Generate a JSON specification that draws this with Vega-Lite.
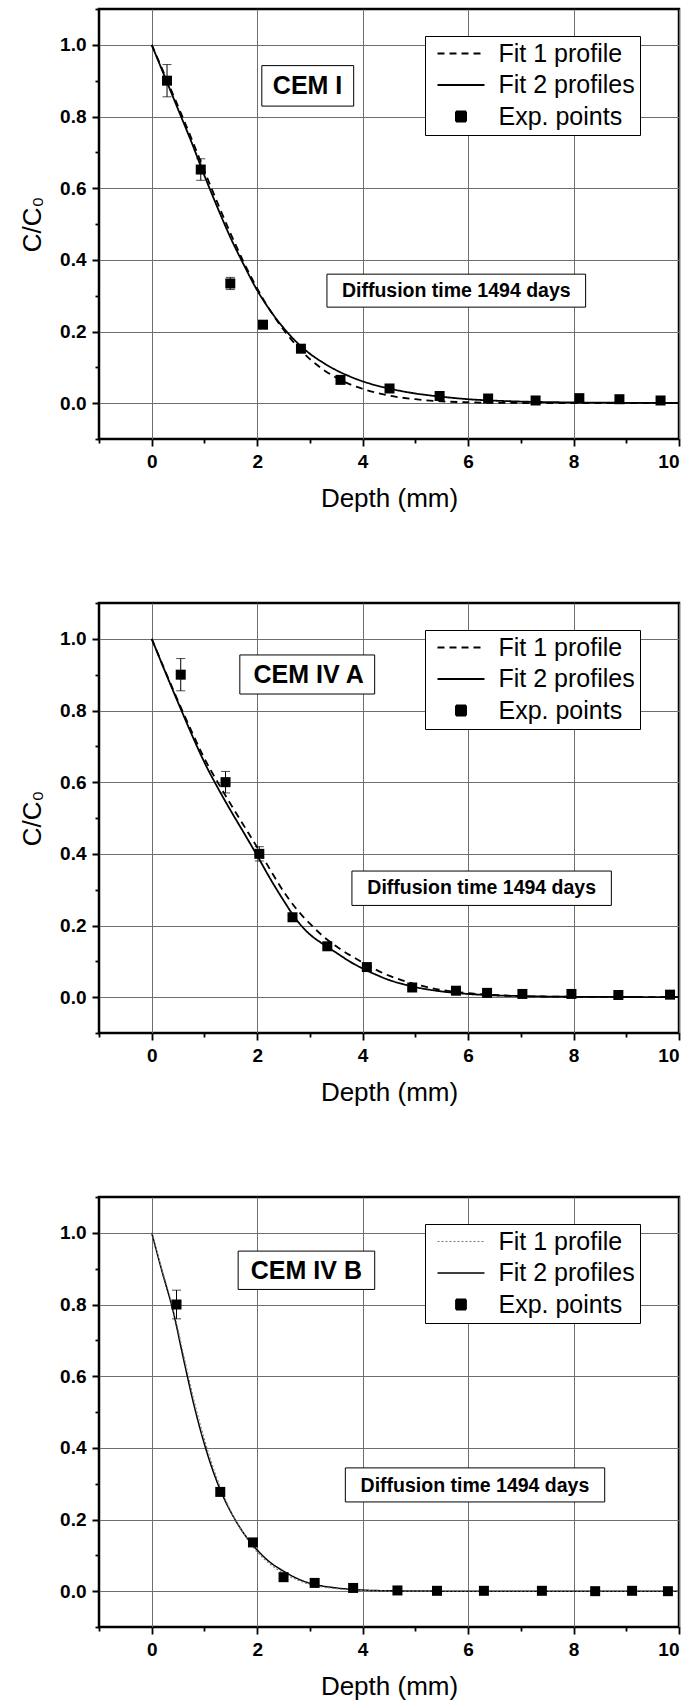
{
  "$schema": "https://vega.github.io/schema/vega-lite/v6.json",
  "background": "white",
  "padding": {"left": 18, "top": 6, "right": 5, "bottom": 0},
  "bounds": "flush",
  "spacing": 164,
  "resolve": {
    "scale": {"shape": "independent", "strokeDash": "independent", "stroke": "independent", "strokeWidth": "independent"},
    "legend": {"shape": "independent", "strokeDash": "independent", "stroke": "independent", "strokeWidth": "independent"}
  },
  "datasets": {
    "p1fit": [
      {"series": "Fit 2 profiles", "x": 0, "y": 1}, {"series": "Fit 2 profiles", "x": 0.25, "y": 0.91}, {"series": "Fit 2 profiles", "x": 0.5, "y": 0.82}, {"series": "Fit 2 profiles", "x": 0.75, "y": 0.73}, {"series": "Fit 2 profiles", "x": 1, "y": 0.635}, {"series": "Fit 2 profiles", "x": 1.25, "y": 0.545}, {"series": "Fit 2 profiles", "x": 1.5, "y": 0.46}, {"series": "Fit 2 profiles", "x": 1.75, "y": 0.385}, {"series": "Fit 2 profiles", "x": 2, "y": 0.315}, {"series": "Fit 2 profiles", "x": 2.25, "y": 0.258}, {"series": "Fit 2 profiles", "x": 2.5, "y": 0.21}, {"series": "Fit 2 profiles", "x": 2.75, "y": 0.17}, {"series": "Fit 2 profiles", "x": 3, "y": 0.138}, {"series": "Fit 2 profiles", "x": 3.25, "y": 0.113}, {"series": "Fit 2 profiles", "x": 3.5, "y": 0.092}, {"series": "Fit 2 profiles", "x": 3.75, "y": 0.075}, {"series": "Fit 2 profiles", "x": 4, "y": 0.061}, {"series": "Fit 2 profiles", "x": 4.5, "y": 0.041}, {"series": "Fit 2 profiles", "x": 5, "y": 0.027}, {"series": "Fit 2 profiles", "x": 5.5, "y": 0.018}, {"series": "Fit 2 profiles", "x": 6, "y": 0.011}, {"series": "Fit 2 profiles", "x": 6.5, "y": 0.007}, {"series": "Fit 2 profiles", "x": 7, "y": 0.0045}, {"series": "Fit 2 profiles", "x": 8, "y": 0.002}, {"series": "Fit 2 profiles", "x": 9, "y": 0.001}, {"series": "Fit 2 profiles", "x": 10, "y": 0.0005},
      {"series": "Fit 1 profile", "x": 0, "y": 1}, {"series": "Fit 1 profile", "x": 0.25, "y": 0.915}, {"series": "Fit 1 profile", "x": 0.5, "y": 0.828}, {"series": "Fit 1 profile", "x": 0.75, "y": 0.74}, {"series": "Fit 1 profile", "x": 1, "y": 0.648}, {"series": "Fit 1 profile", "x": 1.25, "y": 0.558}, {"series": "Fit 1 profile", "x": 1.5, "y": 0.472}, {"series": "Fit 1 profile", "x": 1.75, "y": 0.392}, {"series": "Fit 1 profile", "x": 2, "y": 0.32}, {"series": "Fit 1 profile", "x": 2.25, "y": 0.258}, {"series": "Fit 1 profile", "x": 2.5, "y": 0.205}, {"series": "Fit 1 profile", "x": 2.75, "y": 0.16}, {"series": "Fit 1 profile", "x": 3, "y": 0.123}, {"series": "Fit 1 profile", "x": 3.25, "y": 0.094}, {"series": "Fit 1 profile", "x": 3.5, "y": 0.071}, {"series": "Fit 1 profile", "x": 3.75, "y": 0.053}, {"series": "Fit 1 profile", "x": 4, "y": 0.04}, {"series": "Fit 1 profile", "x": 4.5, "y": 0.021}, {"series": "Fit 1 profile", "x": 5, "y": 0.011}, {"series": "Fit 1 profile", "x": 5.5, "y": 0.005}, {"series": "Fit 1 profile", "x": 6, "y": 0.0025}, {"series": "Fit 1 profile", "x": 7, "y": 0.0005}, {"series": "Fit 1 profile", "x": 8, "y": 0.0001}, {"series": "Fit 1 profile", "x": 10, "y": 0}
    ],
    "p1pts": [
      {"series": "Exp. points", "x": 0.29, "y": 0.9, "err": 0.045}, {"series": "Exp. points", "x": 0.93, "y": 0.652, "err": 0.03}, {"series": "Exp. points", "x": 1.49, "y": 0.334, "err": 0.017}, {"series": "Exp. points", "x": 2.11, "y": 0.219, "err": 0.008}, {"series": "Exp. points", "x": 2.83, "y": 0.152, "err": 0.006}, {"series": "Exp. points", "x": 3.58, "y": 0.065, "err": 0.005}, {"series": "Exp. points", "x": 4.51, "y": 0.041, "err": 0.005}, {"series": "Exp. points", "x": 5.46, "y": 0.02, "err": 0.004}, {"series": "Exp. points", "x": 6.38, "y": 0.013, "err": 0.003}, {"series": "Exp. points", "x": 7.28, "y": 0.0075, "err": 0.003}, {"series": "Exp. points", "x": 8.11, "y": 0.014, "err": 0.003}, {"series": "Exp. points", "x": 8.87, "y": 0.011, "err": 0.003}, {"series": "Exp. points", "x": 9.65, "y": 0.0075, "err": 0.003}
    ],
    "p2fit": [
      {"series": "Fit 2 profiles", "x": 0, "y": 1}, {"series": "Fit 2 profiles", "x": 0.25, "y": 0.91}, {"series": "Fit 2 profiles", "x": 0.5, "y": 0.822}, {"series": "Fit 2 profiles", "x": 0.75, "y": 0.736}, {"series": "Fit 2 profiles", "x": 1, "y": 0.655}, {"series": "Fit 2 profiles", "x": 1.25, "y": 0.585}, {"series": "Fit 2 profiles", "x": 1.5, "y": 0.52}, {"series": "Fit 2 profiles", "x": 1.75, "y": 0.458}, {"series": "Fit 2 profiles", "x": 2, "y": 0.395}, {"series": "Fit 2 profiles", "x": 2.25, "y": 0.33}, {"series": "Fit 2 profiles", "x": 2.5, "y": 0.27}, {"series": "Fit 2 profiles", "x": 2.75, "y": 0.215}, {"series": "Fit 2 profiles", "x": 3, "y": 0.175}, {"series": "Fit 2 profiles", "x": 3.25, "y": 0.148}, {"series": "Fit 2 profiles", "x": 3.5, "y": 0.124}, {"series": "Fit 2 profiles", "x": 3.75, "y": 0.1}, {"series": "Fit 2 profiles", "x": 4, "y": 0.08}, {"series": "Fit 2 profiles", "x": 4.25, "y": 0.063}, {"series": "Fit 2 profiles", "x": 4.5, "y": 0.048}, {"series": "Fit 2 profiles", "x": 4.75, "y": 0.037}, {"series": "Fit 2 profiles", "x": 5, "y": 0.028}, {"series": "Fit 2 profiles", "x": 5.5, "y": 0.016}, {"series": "Fit 2 profiles", "x": 6, "y": 0.009}, {"series": "Fit 2 profiles", "x": 6.5, "y": 0.005}, {"series": "Fit 2 profiles", "x": 7, "y": 0.003}, {"series": "Fit 2 profiles", "x": 8, "y": 0.001}, {"series": "Fit 2 profiles", "x": 9, "y": 0.0005}, {"series": "Fit 2 profiles", "x": 10, "y": 0.0002},
      {"series": "Fit 1 profile", "x": 0, "y": 1}, {"series": "Fit 1 profile", "x": 0.25, "y": 0.912}, {"series": "Fit 1 profile", "x": 0.5, "y": 0.826}, {"series": "Fit 1 profile", "x": 0.75, "y": 0.744}, {"series": "Fit 1 profile", "x": 1, "y": 0.666}, {"series": "Fit 1 profile", "x": 1.25, "y": 0.6}, {"series": "Fit 1 profile", "x": 1.5, "y": 0.538}, {"series": "Fit 1 profile", "x": 1.75, "y": 0.478}, {"series": "Fit 1 profile", "x": 2, "y": 0.418}, {"series": "Fit 1 profile", "x": 2.25, "y": 0.355}, {"series": "Fit 1 profile", "x": 2.5, "y": 0.295}, {"series": "Fit 1 profile", "x": 2.75, "y": 0.245}, {"series": "Fit 1 profile", "x": 3, "y": 0.205}, {"series": "Fit 1 profile", "x": 3.25, "y": 0.17}, {"series": "Fit 1 profile", "x": 3.5, "y": 0.142}, {"series": "Fit 1 profile", "x": 3.75, "y": 0.118}, {"series": "Fit 1 profile", "x": 4, "y": 0.097}, {"series": "Fit 1 profile", "x": 4.25, "y": 0.077}, {"series": "Fit 1 profile", "x": 4.5, "y": 0.06}, {"series": "Fit 1 profile", "x": 4.75, "y": 0.047}, {"series": "Fit 1 profile", "x": 5, "y": 0.036}, {"series": "Fit 1 profile", "x": 5.5, "y": 0.02}, {"series": "Fit 1 profile", "x": 6, "y": 0.011}, {"series": "Fit 1 profile", "x": 6.5, "y": 0.006}, {"series": "Fit 1 profile", "x": 7, "y": 0.003}, {"series": "Fit 1 profile", "x": 8, "y": 0.001}, {"series": "Fit 1 profile", "x": 10, "y": 0.0002}
    ],
    "p2pts": [
      {"series": "Exp. points", "x": 0.55, "y": 0.9, "err": 0.045}, {"series": "Exp. points", "x": 1.4, "y": 0.6, "err": 0.03}, {"series": "Exp. points", "x": 2.04, "y": 0.4, "err": 0.02}, {"series": "Exp. points", "x": 2.67, "y": 0.223, "err": 0.008}, {"series": "Exp. points", "x": 3.33, "y": 0.142, "err": 0.006}, {"series": "Exp. points", "x": 4.08, "y": 0.084, "err": 0.005}, {"series": "Exp. points", "x": 4.94, "y": 0.027, "err": 0.005}, {"series": "Exp. points", "x": 5.77, "y": 0.018, "err": 0.004}, {"series": "Exp. points", "x": 6.36, "y": 0.012, "err": 0.003}, {"series": "Exp. points", "x": 7.03, "y": 0.009, "err": 0.003}, {"series": "Exp. points", "x": 7.96, "y": 0.009, "err": 0.003}, {"series": "Exp. points", "x": 8.85, "y": 0.006, "err": 0.003}, {"series": "Exp. points", "x": 9.83, "y": 0.007, "err": 0.003}
    ],
    "p3fit": [
      {"series": "Fit 2 profiles", "x": 0, "y": 1}, {"series": "Fit 2 profiles", "x": 0.2, "y": 0.89}, {"series": "Fit 2 profiles", "x": 0.4, "y": 0.785}, {"series": "Fit 2 profiles", "x": 0.6, "y": 0.65}, {"series": "Fit 2 profiles", "x": 0.8, "y": 0.52}, {"series": "Fit 2 profiles", "x": 1, "y": 0.41}, {"series": "Fit 2 profiles", "x": 1.2, "y": 0.32}, {"series": "Fit 2 profiles", "x": 1.4, "y": 0.25}, {"series": "Fit 2 profiles", "x": 1.6, "y": 0.195}, {"series": "Fit 2 profiles", "x": 1.8, "y": 0.15}, {"series": "Fit 2 profiles", "x": 2, "y": 0.115}, {"series": "Fit 2 profiles", "x": 2.25, "y": 0.08}, {"series": "Fit 2 profiles", "x": 2.5, "y": 0.056}, {"series": "Fit 2 profiles", "x": 2.75, "y": 0.036}, {"series": "Fit 2 profiles", "x": 3, "y": 0.022}, {"series": "Fit 2 profiles", "x": 3.25, "y": 0.014}, {"series": "Fit 2 profiles", "x": 3.5, "y": 0.009}, {"series": "Fit 2 profiles", "x": 4, "y": 0.003}, {"series": "Fit 2 profiles", "x": 4.5, "y": 0.001}, {"series": "Fit 2 profiles", "x": 5, "y": 0.0003}, {"series": "Fit 2 profiles", "x": 6, "y": 0}, {"series": "Fit 2 profiles", "x": 10, "y": 0},
      {"series": "Fit 1 profile", "x": 0, "y": 1}, {"series": "Fit 1 profile", "x": 0.2, "y": 0.895}, {"series": "Fit 1 profile", "x": 0.4, "y": 0.792}, {"series": "Fit 1 profile", "x": 0.6, "y": 0.662}, {"series": "Fit 1 profile", "x": 0.8, "y": 0.533}, {"series": "Fit 1 profile", "x": 1, "y": 0.423}, {"series": "Fit 1 profile", "x": 1.2, "y": 0.33}, {"series": "Fit 1 profile", "x": 1.4, "y": 0.255}, {"series": "Fit 1 profile", "x": 1.6, "y": 0.195}, {"series": "Fit 1 profile", "x": 1.8, "y": 0.148}, {"series": "Fit 1 profile", "x": 2, "y": 0.11}, {"series": "Fit 1 profile", "x": 2.25, "y": 0.075}, {"series": "Fit 1 profile", "x": 2.5, "y": 0.05}, {"series": "Fit 1 profile", "x": 2.75, "y": 0.032}, {"series": "Fit 1 profile", "x": 3, "y": 0.019}, {"series": "Fit 1 profile", "x": 3.5, "y": 0.007}, {"series": "Fit 1 profile", "x": 4, "y": 0.002}, {"series": "Fit 1 profile", "x": 4.5, "y": 0.0005}, {"series": "Fit 1 profile", "x": 5, "y": 0}, {"series": "Fit 1 profile", "x": 10, "y": 0}
    ],
    "p3pts": [
      {"series": "Exp. points", "x": 0.47, "y": 0.8, "err": 0.04}, {"series": "Exp. points", "x": 1.3, "y": 0.277, "err": 0.01}, {"series": "Exp. points", "x": 1.92, "y": 0.136, "err": 0.008}, {"series": "Exp. points", "x": 2.5, "y": 0.039, "err": 0.005}, {"series": "Exp. points", "x": 3.09, "y": 0.023, "err": 0.004}, {"series": "Exp. points", "x": 3.82, "y": 0.009, "err": 0.003}, {"series": "Exp. points", "x": 4.66, "y": 0.002, "err": 0.002}, {"series": "Exp. points", "x": 5.41, "y": 0.001, "err": 0.002}, {"series": "Exp. points", "x": 6.3, "y": 0.001, "err": 0.002}, {"series": "Exp. points", "x": 7.4, "y": 0.001, "err": 0.002}, {"series": "Exp. points", "x": 8.41, "y": 0, "err": 0.002}, {"series": "Exp. points", "x": 9.11, "y": 0.001, "err": 0.002}, {"series": "Exp. points", "x": 9.79, "y": 0, "err": 0.002}
    ]
  },
  "vconcat": [
    {
      "width": 580, "height": 430,
      "layer": [
        {"data": {"values": [{}]}, "mark": {"type": "rect", "fill": "white", "stroke": "black", "strokeWidth": 1},
         "encoding": {"x": {"datum": 2.088, "type": "quantitative", "scale": {"domain": [-1, 10], "nice": false, "zero": false}, "title": "Depth (mm)", "axis": {"orient": "bottom", "values": [-1, 0, 1, 2, 3, 4, 5, 6, 7, 8, 9, 10], "labelExpr": "indexof([0, 2, 4, 6, 8, 10], datum.value) >= 0 ? format(datum.value, 'd') : ''", "tickDash": {"condition": {"test": "datum.value >= 0 && datum.value % 2 == 0", "value": [1, 0]}, "value": [4, 20]}, "gridOpacity": {"condition": {"test": "datum.value >= 0 && datum.value % 2 == 0", "value": 1}, "value": 0}}}, "x2": {"datum": 3.83},
                      "y": {"datum": 0.829, "type": "quantitative", "scale": {"domain": [-0.1, 1.1], "nice": false, "zero": false}, "title": "C/C₀", "axis": {"orient": "left", "values": [-0.1, 0, 0.1, 0.2, 0.3, 0.4, 0.5, 0.6, 0.7, 0.8, 0.9, 1, 1.1], "labelExpr": "indexof([0, 0.2, 0.4, 0.6, 0.8, 1], datum.value) >= 0 ? format(datum.value, '.1f') : ''", "tickDash": {"condition": {"test": "(datum.value * 10 + 20.5) % 2 < 1", "value": [1, 0]}, "value": [4, 20]}, "gridOpacity": {"condition": {"test": "(datum.value * 10 + 20.5) % 2 < 1", "value": 1}, "value": 0}}}, "y2": {"datum": 0.942}}},
        {"data": {"values": [{}]}, "mark": {"type": "text", "text": "CEM I", "font": "Liberation Sans", "fontWeight": "bold", "fontSize": 25, "color": "black", "align": "center", "baseline": "middle"},
         "encoding": {"x": {"datum": 2.956, "type": "quantitative", "scale": {"domain": [-1, 10], "nice": false, "zero": false}, "title": "Depth (mm)", "axis": {"orient": "bottom", "values": [-1, 0, 1, 2, 3, 4, 5, 6, 7, 8, 9, 10], "labelExpr": "indexof([0, 2, 4, 6, 8, 10], datum.value) >= 0 ? format(datum.value, 'd') : ''", "tickDash": {"condition": {"test": "datum.value >= 0 && datum.value % 2 == 0", "value": [1, 0]}, "value": [4, 20]}, "gridOpacity": {"condition": {"test": "datum.value >= 0 && datum.value % 2 == 0", "value": 1}, "value": 0}}},
                      "y": {"datum": 0.885, "type": "quantitative", "scale": {"domain": [-0.1, 1.1], "nice": false, "zero": false}, "title": "C/C₀", "axis": {"orient": "left", "values": [-0.1, 0, 0.1, 0.2, 0.3, 0.4, 0.5, 0.6, 0.7, 0.8, 0.9, 1, 1.1], "labelExpr": "indexof([0, 0.2, 0.4, 0.6, 0.8, 1], datum.value) >= 0 ? format(datum.value, '.1f') : ''", "tickDash": {"condition": {"test": "(datum.value * 10 + 20.5) % 2 < 1", "value": [1, 0]}, "value": [4, 20]}, "gridOpacity": {"condition": {"test": "(datum.value * 10 + 20.5) % 2 < 1", "value": 1}, "value": 0}}}}},
        {"data": {"values": [{}]}, "mark": {"type": "rect", "fill": "white", "stroke": "black", "strokeWidth": 1},
         "encoding": {"x": {"datum": 3.323, "type": "quantitative", "scale": {"domain": [-1, 10], "nice": false, "zero": false}, "title": "Depth (mm)", "axis": {"orient": "bottom", "values": [-1, 0, 1, 2, 3, 4, 5, 6, 7, 8, 9, 10], "labelExpr": "indexof([0, 2, 4, 6, 8, 10], datum.value) >= 0 ? format(datum.value, 'd') : ''", "tickDash": {"condition": {"test": "datum.value >= 0 && datum.value % 2 == 0", "value": [1, 0]}, "value": [4, 20]}, "gridOpacity": {"condition": {"test": "datum.value >= 0 && datum.value % 2 == 0", "value": 1}, "value": 0}}}, "x2": {"datum": 8.229},
                      "y": {"datum": 0.268, "type": "quantitative", "scale": {"domain": [-0.1, 1.1], "nice": false, "zero": false}, "title": "C/C₀", "axis": {"orient": "left", "values": [-0.1, 0, 0.1, 0.2, 0.3, 0.4, 0.5, 0.6, 0.7, 0.8, 0.9, 1, 1.1], "labelExpr": "indexof([0, 0.2, 0.4, 0.6, 0.8, 1], datum.value) >= 0 ? format(datum.value, '.1f') : ''", "tickDash": {"condition": {"test": "(datum.value * 10 + 20.5) % 2 < 1", "value": [1, 0]}, "value": [4, 20]}, "gridOpacity": {"condition": {"test": "(datum.value * 10 + 20.5) % 2 < 1", "value": 1}, "value": 0}}}, "y2": {"datum": 0.36}}},
        {"data": {"values": [{}]}, "mark": {"type": "text", "text": "Diffusion time 1494 days", "font": "Liberation Sans", "fontWeight": "bold", "fontSize": 19.5, "color": "black", "align": "center", "baseline": "middle"},
         "encoding": {"x": {"datum": 5.776, "type": "quantitative", "scale": {"domain": [-1, 10], "nice": false, "zero": false}, "title": "Depth (mm)", "axis": {"orient": "bottom", "values": [-1, 0, 1, 2, 3, 4, 5, 6, 7, 8, 9, 10], "labelExpr": "indexof([0, 2, 4, 6, 8, 10], datum.value) >= 0 ? format(datum.value, 'd') : ''", "tickDash": {"condition": {"test": "datum.value >= 0 && datum.value % 2 == 0", "value": [1, 0]}, "value": [4, 20]}, "gridOpacity": {"condition": {"test": "datum.value >= 0 && datum.value % 2 == 0", "value": 1}, "value": 0}}},
                      "y": {"datum": 0.312, "type": "quantitative", "scale": {"domain": [-0.1, 1.1], "nice": false, "zero": false}, "title": "C/C₀", "axis": {"orient": "left", "values": [-0.1, 0, 0.1, 0.2, 0.3, 0.4, 0.5, 0.6, 0.7, 0.8, 0.9, 1, 1.1], "labelExpr": "indexof([0, 0.2, 0.4, 0.6, 0.8, 1], datum.value) >= 0 ? format(datum.value, '.1f') : ''", "tickDash": {"condition": {"test": "(datum.value * 10 + 20.5) % 2 < 1", "value": [1, 0]}, "value": [4, 20]}, "gridOpacity": {"condition": {"test": "(datum.value * 10 + 20.5) % 2 < 1", "value": 1}, "value": 0}}}}},
        {"data": {"name": "p1fit"}, "mark": {"type": "line", "color": "black", "strokeWidth": 1.8, "interpolate": "monotone"},
         "encoding": {
           "x": {"field": "x", "type": "quantitative", "scale": {"domain": [-1, 10], "nice": false, "zero": false}, "title": "Depth (mm)", "axis": {"orient": "bottom", "values": [-1, 0, 1, 2, 3, 4, 5, 6, 7, 8, 9, 10], "labelExpr": "indexof([0, 2, 4, 6, 8, 10], datum.value) >= 0 ? format(datum.value, 'd') : ''", "tickDash": {"condition": {"test": "datum.value >= 0 && datum.value % 2 == 0", "value": [1, 0]}, "value": [4, 20]}, "gridOpacity": {"condition": {"test": "datum.value >= 0 && datum.value % 2 == 0", "value": 1}, "value": 0}}},
           "y": {"field": "y", "type": "quantitative", "scale": {"domain": [-0.1, 1.1], "nice": false, "zero": false}, "title": "C/C₀", "axis": {"orient": "left", "values": [-0.1, 0, 0.1, 0.2, 0.3, 0.4, 0.5, 0.6, 0.7, 0.8, 0.9, 1, 1.1], "labelExpr": "indexof([0, 0.2, 0.4, 0.6, 0.8, 1], datum.value) >= 0 ? format(datum.value, '.1f') : ''", "tickDash": {"condition": {"test": "(datum.value * 10 + 20.5) % 2 < 1", "value": [1, 0]}, "value": [4, 20]}, "gridOpacity": {"condition": {"test": "(datum.value * 10 + 20.5) % 2 < 1", "value": 1}, "value": 0}}},
           "strokeDash": {"field": "series", "type": "nominal",
                          "scale": {"domain": ["Fit 1 profile", "Fit 2 profiles", "Exp. points"], "range": [[7, 5], [1, 0], [1, 0]]},
                          "legend": {"title": null, "orient": "none", "legendX": 326, "legendY": 27, "direction": "vertical", "strokeColor": "black", "fillColor": "white", "padding": 5, "titlePadding": 0, "rowPadding": 5.5, "labelFont": "Liberation Sans", "labelFontSize": 25, "labelColor": "black", "symbolOffset": 18.5, "labelOffset": 25, "symbolSize": 100,
                                     "encoding": {"symbols": {"fill": {"value": "black"}, "stroke": {"value": "black"}, "strokeWidth": {"value": 2}, "opacity": {"value": 1}}}}}
         }},
        {"data": {"name": "p1pts"}, "mark": {"type": "errorbar", "color": "black", "thickness": 1, "ticks": {"size": 9}},
         "encoding": {"x": {"field": "x", "type": "quantitative", "scale": {"domain": [-1, 10], "nice": false, "zero": false}, "title": "Depth (mm)", "axis": {"orient": "bottom", "values": [-1, 0, 1, 2, 3, 4, 5, 6, 7, 8, 9, 10], "labelExpr": "indexof([0, 2, 4, 6, 8, 10], datum.value) >= 0 ? format(datum.value, 'd') : ''", "tickDash": {"condition": {"test": "datum.value >= 0 && datum.value % 2 == 0", "value": [1, 0]}, "value": [4, 20]}, "gridOpacity": {"condition": {"test": "datum.value >= 0 && datum.value % 2 == 0", "value": 1}, "value": 0}}},
                      "y": {"field": "y", "type": "quantitative", "scale": {"domain": [-0.1, 1.1], "nice": false, "zero": false}, "title": "C/C₀", "axis": {"orient": "left", "values": [-0.1, 0, 0.1, 0.2, 0.3, 0.4, 0.5, 0.6, 0.7, 0.8, 0.9, 1, 1.1], "labelExpr": "indexof([0, 0.2, 0.4, 0.6, 0.8, 1], datum.value) >= 0 ? format(datum.value, '.1f') : ''", "tickDash": {"condition": {"test": "(datum.value * 10 + 20.5) % 2 < 1", "value": [1, 0]}, "value": [4, 20]}, "gridOpacity": {"condition": {"test": "(datum.value * 10 + 20.5) % 2 < 1", "value": 1}, "value": 0}}},
                      "yError": {"field": "err"}}},
        {"data": {"name": "p1pts"}, "mark": {"type": "point", "filled": true, "color": "black", "opacity": 1, "size": 100},
         "encoding": {"x": {"field": "x", "type": "quantitative", "scale": {"domain": [-1, 10], "nice": false, "zero": false}, "title": "Depth (mm)", "axis": {"orient": "bottom", "values": [-1, 0, 1, 2, 3, 4, 5, 6, 7, 8, 9, 10], "labelExpr": "indexof([0, 2, 4, 6, 8, 10], datum.value) >= 0 ? format(datum.value, 'd') : ''", "tickDash": {"condition": {"test": "datum.value >= 0 && datum.value % 2 == 0", "value": [1, 0]}, "value": [4, 20]}, "gridOpacity": {"condition": {"test": "datum.value >= 0 && datum.value % 2 == 0", "value": 1}, "value": 0}}},
                      "y": {"field": "y", "type": "quantitative", "scale": {"domain": [-0.1, 1.1], "nice": false, "zero": false}, "title": "C/C₀", "axis": {"orient": "left", "values": [-0.1, 0, 0.1, 0.2, 0.3, 0.4, 0.5, 0.6, 0.7, 0.8, 0.9, 1, 1.1], "labelExpr": "indexof([0, 0.2, 0.4, 0.6, 0.8, 1], datum.value) >= 0 ? format(datum.value, '.1f') : ''", "tickDash": {"condition": {"test": "(datum.value * 10 + 20.5) % 2 < 1", "value": [1, 0]}, "value": [4, 20]}, "gridOpacity": {"condition": {"test": "(datum.value * 10 + 20.5) % 2 < 1", "value": 1}, "value": 0}}},
                      "shape": {"field": "series", "type": "nominal",
                                "scale": {"domain": ["Fit 1 profile", "Fit 2 profiles", "Exp. points"], "range": ["M-4.7,0H4.7", "M-4.7,0H4.7", "M-1,-1H1V1H-1Z"]},
                                "legend": {"title": null, "orient": "none", "legendX": 326, "legendY": 27, "direction": "vertical", "strokeColor": "black", "fillColor": "white", "padding": 5, "titlePadding": 0, "rowPadding": 5.5, "labelFont": "Liberation Sans", "labelFontSize": 25, "labelColor": "black", "symbolOffset": 18.5, "labelOffset": 25, "symbolSize": 100,
                                           "encoding": {"symbols": {"fill": {"value": "black"}, "stroke": {"value": "black"}, "strokeWidth": {"value": 2}, "opacity": {"value": 1}}}}}}}
      ]
    },
    {
      "width": 580, "height": 430,
      "layer": [
        {"data": {"values": [{}]}, "mark": {"type": "rect", "fill": "white", "stroke": "black", "strokeWidth": 1},
         "encoding": {"x": {"datum": 1.671, "type": "quantitative", "scale": {"domain": [-1, 10], "nice": false, "zero": false}, "title": "Depth (mm)", "axis": {"orient": "bottom", "values": [-1, 0, 1, 2, 3, 4, 5, 6, 7, 8, 9, 10], "labelExpr": "indexof([0, 2, 4, 6, 8, 10], datum.value) >= 0 ? format(datum.value, 'd') : ''", "tickDash": {"condition": {"test": "datum.value >= 0 && datum.value % 2 == 0", "value": [1, 0]}, "value": [4, 20]}, "gridOpacity": {"condition": {"test": "datum.value >= 0 && datum.value % 2 == 0", "value": 1}, "value": 0}}}, "x2": {"datum": 4.228},
                      "y": {"datum": 0.846, "type": "quantitative", "scale": {"domain": [-0.1, 1.1], "nice": false, "zero": false}, "title": "C/C₀", "axis": {"orient": "left", "values": [-0.1, 0, 0.1, 0.2, 0.3, 0.4, 0.5, 0.6, 0.7, 0.8, 0.9, 1, 1.1], "labelExpr": "indexof([0, 0.2, 0.4, 0.6, 0.8, 1], datum.value) >= 0 ? format(datum.value, '.1f') : ''", "tickDash": {"condition": {"test": "(datum.value * 10 + 20.5) % 2 < 1", "value": [1, 0]}, "value": [4, 20]}, "gridOpacity": {"condition": {"test": "(datum.value * 10 + 20.5) % 2 < 1", "value": 1}, "value": 0}}}, "y2": {"datum": 0.955}}},
        {"data": {"values": [{}]}, "mark": {"type": "text", "text": "CEM IV A", "font": "Liberation Sans", "fontWeight": "bold", "fontSize": 25, "color": "black", "align": "center", "baseline": "middle"},
         "encoding": {"x": {"datum": 2.975, "type": "quantitative", "scale": {"domain": [-1, 10], "nice": false, "zero": false}, "title": "Depth (mm)", "axis": {"orient": "bottom", "values": [-1, 0, 1, 2, 3, 4, 5, 6, 7, 8, 9, 10], "labelExpr": "indexof([0, 2, 4, 6, 8, 10], datum.value) >= 0 ? format(datum.value, 'd') : ''", "tickDash": {"condition": {"test": "datum.value >= 0 && datum.value % 2 == 0", "value": [1, 0]}, "value": [4, 20]}, "gridOpacity": {"condition": {"test": "datum.value >= 0 && datum.value % 2 == 0", "value": 1}, "value": 0}}},
                      "y": {"datum": 0.898, "type": "quantitative", "scale": {"domain": [-0.1, 1.1], "nice": false, "zero": false}, "title": "C/C₀", "axis": {"orient": "left", "values": [-0.1, 0, 0.1, 0.2, 0.3, 0.4, 0.5, 0.6, 0.7, 0.8, 0.9, 1, 1.1], "labelExpr": "indexof([0, 0.2, 0.4, 0.6, 0.8, 1], datum.value) >= 0 ? format(datum.value, '.1f') : ''", "tickDash": {"condition": {"test": "(datum.value * 10 + 20.5) % 2 < 1", "value": [1, 0]}, "value": [4, 20]}, "gridOpacity": {"condition": {"test": "(datum.value * 10 + 20.5) % 2 < 1", "value": 1}, "value": 0}}}}},
        {"data": {"values": [{}]}, "mark": {"type": "rect", "fill": "white", "stroke": "black", "strokeWidth": 1},
         "encoding": {"x": {"datum": 3.797, "type": "quantitative", "scale": {"domain": [-1, 10], "nice": false, "zero": false}, "title": "Depth (mm)", "axis": {"orient": "bottom", "values": [-1, 0, 1, 2, 3, 4, 5, 6, 7, 8, 9, 10], "labelExpr": "indexof([0, 2, 4, 6, 8, 10], datum.value) >= 0 ? format(datum.value, 'd') : ''", "tickDash": {"condition": {"test": "datum.value >= 0 && datum.value % 2 == 0", "value": [1, 0]}, "value": [4, 20]}, "gridOpacity": {"condition": {"test": "datum.value >= 0 && datum.value % 2 == 0", "value": 1}, "value": 0}}}, "x2": {"datum": 8.717},
                      "y": {"datum": 0.256, "type": "quantitative", "scale": {"domain": [-0.1, 1.1], "nice": false, "zero": false}, "title": "C/C₀", "axis": {"orient": "left", "values": [-0.1, 0, 0.1, 0.2, 0.3, 0.4, 0.5, 0.6, 0.7, 0.8, 0.9, 1, 1.1], "labelExpr": "indexof([0, 0.2, 0.4, 0.6, 0.8, 1], datum.value) >= 0 ? format(datum.value, '.1f') : ''", "tickDash": {"condition": {"test": "(datum.value * 10 + 20.5) % 2 < 1", "value": [1, 0]}, "value": [4, 20]}, "gridOpacity": {"condition": {"test": "(datum.value * 10 + 20.5) % 2 < 1", "value": 1}, "value": 0}}}, "y2": {"datum": 0.352}}},
        {"data": {"values": [{}]}, "mark": {"type": "text", "text": "Diffusion time 1494 days", "font": "Liberation Sans", "fontWeight": "bold", "fontSize": 19.5, "color": "black", "align": "center", "baseline": "middle"},
         "encoding": {"x": {"datum": 6.258, "type": "quantitative", "scale": {"domain": [-1, 10], "nice": false, "zero": false}, "title": "Depth (mm)", "axis": {"orient": "bottom", "values": [-1, 0, 1, 2, 3, 4, 5, 6, 7, 8, 9, 10], "labelExpr": "indexof([0, 2, 4, 6, 8, 10], datum.value) >= 0 ? format(datum.value, 'd') : ''", "tickDash": {"condition": {"test": "datum.value >= 0 && datum.value % 2 == 0", "value": [1, 0]}, "value": [4, 20]}, "gridOpacity": {"condition": {"test": "datum.value >= 0 && datum.value % 2 == 0", "value": 1}, "value": 0}}},
                      "y": {"datum": 0.304, "type": "quantitative", "scale": {"domain": [-0.1, 1.1], "nice": false, "zero": false}, "title": "C/C₀", "axis": {"orient": "left", "values": [-0.1, 0, 0.1, 0.2, 0.3, 0.4, 0.5, 0.6, 0.7, 0.8, 0.9, 1, 1.1], "labelExpr": "indexof([0, 0.2, 0.4, 0.6, 0.8, 1], datum.value) >= 0 ? format(datum.value, '.1f') : ''", "tickDash": {"condition": {"test": "(datum.value * 10 + 20.5) % 2 < 1", "value": [1, 0]}, "value": [4, 20]}, "gridOpacity": {"condition": {"test": "(datum.value * 10 + 20.5) % 2 < 1", "value": 1}, "value": 0}}}}},
        {"data": {"name": "p2fit"}, "mark": {"type": "line", "color": "black", "strokeWidth": 1.8, "interpolate": "monotone"},
         "encoding": {
           "x": {"field": "x", "type": "quantitative", "scale": {"domain": [-1, 10], "nice": false, "zero": false}, "title": "Depth (mm)", "axis": {"orient": "bottom", "values": [-1, 0, 1, 2, 3, 4, 5, 6, 7, 8, 9, 10], "labelExpr": "indexof([0, 2, 4, 6, 8, 10], datum.value) >= 0 ? format(datum.value, 'd') : ''", "tickDash": {"condition": {"test": "datum.value >= 0 && datum.value % 2 == 0", "value": [1, 0]}, "value": [4, 20]}, "gridOpacity": {"condition": {"test": "datum.value >= 0 && datum.value % 2 == 0", "value": 1}, "value": 0}}},
           "y": {"field": "y", "type": "quantitative", "scale": {"domain": [-0.1, 1.1], "nice": false, "zero": false}, "title": "C/C₀", "axis": {"orient": "left", "values": [-0.1, 0, 0.1, 0.2, 0.3, 0.4, 0.5, 0.6, 0.7, 0.8, 0.9, 1, 1.1], "labelExpr": "indexof([0, 0.2, 0.4, 0.6, 0.8, 1], datum.value) >= 0 ? format(datum.value, '.1f') : ''", "tickDash": {"condition": {"test": "(datum.value * 10 + 20.5) % 2 < 1", "value": [1, 0]}, "value": [4, 20]}, "gridOpacity": {"condition": {"test": "(datum.value * 10 + 20.5) % 2 < 1", "value": 1}, "value": 0}}},
           "strokeDash": {"field": "series", "type": "nominal",
                          "scale": {"domain": ["Fit 1 profile", "Fit 2 profiles", "Exp. points"], "range": [[7, 5], [1, 0], [1, 0]]},
                          "legend": {"title": null, "orient": "none", "legendX": 326, "legendY": 27, "direction": "vertical", "strokeColor": "black", "fillColor": "white", "padding": 5, "titlePadding": 0, "rowPadding": 5.5, "labelFont": "Liberation Sans", "labelFontSize": 25, "labelColor": "black", "symbolOffset": 18.5, "labelOffset": 25, "symbolSize": 100,
                                     "encoding": {"symbols": {"fill": {"value": "black"}, "stroke": {"value": "black"}, "strokeWidth": {"value": 2}, "opacity": {"value": 1}}}}}
         }},
        {"data": {"name": "p2pts"}, "mark": {"type": "errorbar", "color": "black", "thickness": 1, "ticks": {"size": 9}},
         "encoding": {"x": {"field": "x", "type": "quantitative", "scale": {"domain": [-1, 10], "nice": false, "zero": false}, "title": "Depth (mm)", "axis": {"orient": "bottom", "values": [-1, 0, 1, 2, 3, 4, 5, 6, 7, 8, 9, 10], "labelExpr": "indexof([0, 2, 4, 6, 8, 10], datum.value) >= 0 ? format(datum.value, 'd') : ''", "tickDash": {"condition": {"test": "datum.value >= 0 && datum.value % 2 == 0", "value": [1, 0]}, "value": [4, 20]}, "gridOpacity": {"condition": {"test": "datum.value >= 0 && datum.value % 2 == 0", "value": 1}, "value": 0}}},
                      "y": {"field": "y", "type": "quantitative", "scale": {"domain": [-0.1, 1.1], "nice": false, "zero": false}, "title": "C/C₀", "axis": {"orient": "left", "values": [-0.1, 0, 0.1, 0.2, 0.3, 0.4, 0.5, 0.6, 0.7, 0.8, 0.9, 1, 1.1], "labelExpr": "indexof([0, 0.2, 0.4, 0.6, 0.8, 1], datum.value) >= 0 ? format(datum.value, '.1f') : ''", "tickDash": {"condition": {"test": "(datum.value * 10 + 20.5) % 2 < 1", "value": [1, 0]}, "value": [4, 20]}, "gridOpacity": {"condition": {"test": "(datum.value * 10 + 20.5) % 2 < 1", "value": 1}, "value": 0}}},
                      "yError": {"field": "err"}}},
        {"data": {"name": "p2pts"}, "mark": {"type": "point", "filled": true, "color": "black", "opacity": 1, "size": 100},
         "encoding": {"x": {"field": "x", "type": "quantitative", "scale": {"domain": [-1, 10], "nice": false, "zero": false}, "title": "Depth (mm)", "axis": {"orient": "bottom", "values": [-1, 0, 1, 2, 3, 4, 5, 6, 7, 8, 9, 10], "labelExpr": "indexof([0, 2, 4, 6, 8, 10], datum.value) >= 0 ? format(datum.value, 'd') : ''", "tickDash": {"condition": {"test": "datum.value >= 0 && datum.value % 2 == 0", "value": [1, 0]}, "value": [4, 20]}, "gridOpacity": {"condition": {"test": "datum.value >= 0 && datum.value % 2 == 0", "value": 1}, "value": 0}}},
                      "y": {"field": "y", "type": "quantitative", "scale": {"domain": [-0.1, 1.1], "nice": false, "zero": false}, "title": "C/C₀", "axis": {"orient": "left", "values": [-0.1, 0, 0.1, 0.2, 0.3, 0.4, 0.5, 0.6, 0.7, 0.8, 0.9, 1, 1.1], "labelExpr": "indexof([0, 0.2, 0.4, 0.6, 0.8, 1], datum.value) >= 0 ? format(datum.value, '.1f') : ''", "tickDash": {"condition": {"test": "(datum.value * 10 + 20.5) % 2 < 1", "value": [1, 0]}, "value": [4, 20]}, "gridOpacity": {"condition": {"test": "(datum.value * 10 + 20.5) % 2 < 1", "value": 1}, "value": 0}}},
                      "shape": {"field": "series", "type": "nominal",
                                "scale": {"domain": ["Fit 1 profile", "Fit 2 profiles", "Exp. points"], "range": ["M-4.7,0H4.7", "M-4.7,0H4.7", "M-1,-1H1V1H-1Z"]},
                                "legend": {"title": null, "orient": "none", "legendX": 326, "legendY": 27, "direction": "vertical", "strokeColor": "black", "fillColor": "white", "padding": 5, "titlePadding": 0, "rowPadding": 5.5, "labelFont": "Liberation Sans", "labelFontSize": 25, "labelColor": "black", "symbolOffset": 18.5, "labelOffset": 25, "symbolSize": 100,
                                           "encoding": {"symbols": {"fill": {"value": "black"}, "stroke": {"value": "black"}, "strokeWidth": {"value": 2}, "opacity": {"value": 1}}}}}}}
      ]
    },
    {
      "width": 580, "height": 430,
      "layer": [
        {"data": {"values": [{}]}, "mark": {"type": "rect", "fill": "white", "stroke": "black", "strokeWidth": 1},
         "encoding": {"x": {"datum": 1.639, "type": "quantitative", "scale": {"domain": [-1, 10], "nice": false, "zero": false}, "title": "Depth (mm)", "axis": {"orient": "bottom", "values": [-1, 0, 1, 2, 3, 4, 5, 6, 7, 8, 9, 10], "labelExpr": "indexof([0, 2, 4, 6, 8, 10], datum.value) >= 0 ? format(datum.value, 'd') : ''", "tickDash": {"condition": {"test": "datum.value >= 0 && datum.value % 2 == 0", "value": [1, 0]}, "value": [4, 20]}, "gridOpacity": {"condition": {"test": "datum.value >= 0 && datum.value % 2 == 0", "value": 1}, "value": 0}}}, "x2": {"datum": 4.229},
                      "y": {"datum": 0.842, "type": "quantitative", "scale": {"domain": [-0.1, 1.1], "nice": false, "zero": false}, "title": " ", "axis": {"orient": "left", "values": [-0.1, 0, 0.1, 0.2, 0.3, 0.4, 0.5, 0.6, 0.7, 0.8, 0.9, 1, 1.1], "labelExpr": "indexof([0, 0.2, 0.4, 0.6, 0.8, 1], datum.value) >= 0 ? format(datum.value, '.1f') : ''", "tickDash": {"condition": {"test": "(datum.value * 10 + 20.5) % 2 < 1", "value": [1, 0]}, "value": [4, 20]}, "gridOpacity": {"condition": {"test": "(datum.value * 10 + 20.5) % 2 < 1", "value": 1}, "value": 0}}}, "y2": {"datum": 0.949}}},
        {"data": {"values": [{}]}, "mark": {"type": "text", "text": "CEM IV B", "font": "Liberation Sans", "fontWeight": "bold", "fontSize": 25, "color": "black", "align": "center", "baseline": "middle"},
         "encoding": {"x": {"datum": 2.933, "type": "quantitative", "scale": {"domain": [-1, 10], "nice": false, "zero": false}, "title": "Depth (mm)", "axis": {"orient": "bottom", "values": [-1, 0, 1, 2, 3, 4, 5, 6, 7, 8, 9, 10], "labelExpr": "indexof([0, 2, 4, 6, 8, 10], datum.value) >= 0 ? format(datum.value, 'd') : ''", "tickDash": {"condition": {"test": "datum.value >= 0 && datum.value % 2 == 0", "value": [1, 0]}, "value": [4, 20]}, "gridOpacity": {"condition": {"test": "datum.value >= 0 && datum.value % 2 == 0", "value": 1}, "value": 0}}},
                      "y": {"datum": 0.894, "type": "quantitative", "scale": {"domain": [-0.1, 1.1], "nice": false, "zero": false}, "title": " ", "axis": {"orient": "left", "values": [-0.1, 0, 0.1, 0.2, 0.3, 0.4, 0.5, 0.6, 0.7, 0.8, 0.9, 1, 1.1], "labelExpr": "indexof([0, 0.2, 0.4, 0.6, 0.8, 1], datum.value) >= 0 ? format(datum.value, '.1f') : ''", "tickDash": {"condition": {"test": "(datum.value * 10 + 20.5) % 2 < 1", "value": [1, 0]}, "value": [4, 20]}, "gridOpacity": {"condition": {"test": "(datum.value * 10 + 20.5) % 2 < 1", "value": 1}, "value": 0}}}}},
        {"data": {"values": [{}]}, "mark": {"type": "rect", "fill": "white", "stroke": "black", "strokeWidth": 1},
         "encoding": {"x": {"datum": 3.672, "type": "quantitative", "scale": {"domain": [-1, 10], "nice": false, "zero": false}, "title": "Depth (mm)", "axis": {"orient": "bottom", "values": [-1, 0, 1, 2, 3, 4, 5, 6, 7, 8, 9, 10], "labelExpr": "indexof([0, 2, 4, 6, 8, 10], datum.value) >= 0 ? format(datum.value, 'd') : ''", "tickDash": {"condition": {"test": "datum.value >= 0 && datum.value % 2 == 0", "value": [1, 0]}, "value": [4, 20]}, "gridOpacity": {"condition": {"test": "datum.value >= 0 && datum.value % 2 == 0", "value": 1}, "value": 0}}}, "x2": {"datum": 8.591},
                      "y": {"datum": 0.249, "type": "quantitative", "scale": {"domain": [-0.1, 1.1], "nice": false, "zero": false}, "title": " ", "axis": {"orient": "left", "values": [-0.1, 0, 0.1, 0.2, 0.3, 0.4, 0.5, 0.6, 0.7, 0.8, 0.9, 1, 1.1], "labelExpr": "indexof([0, 0.2, 0.4, 0.6, 0.8, 1], datum.value) >= 0 ? format(datum.value, '.1f') : ''", "tickDash": {"condition": {"test": "(datum.value * 10 + 20.5) % 2 < 1", "value": [1, 0]}, "value": [4, 20]}, "gridOpacity": {"condition": {"test": "(datum.value * 10 + 20.5) % 2 < 1", "value": 1}, "value": 0}}}, "y2": {"datum": 0.344}}},
        {"data": {"values": [{}]}, "mark": {"type": "text", "text": "Diffusion time 1494 days", "font": "Liberation Sans", "fontWeight": "bold", "fontSize": 19.5, "color": "black", "align": "center", "baseline": "middle"},
         "encoding": {"x": {"datum": 6.13, "type": "quantitative", "scale": {"domain": [-1, 10], "nice": false, "zero": false}, "title": "Depth (mm)", "axis": {"orient": "bottom", "values": [-1, 0, 1, 2, 3, 4, 5, 6, 7, 8, 9, 10], "labelExpr": "indexof([0, 2, 4, 6, 8, 10], datum.value) >= 0 ? format(datum.value, 'd') : ''", "tickDash": {"condition": {"test": "datum.value >= 0 && datum.value % 2 == 0", "value": [1, 0]}, "value": [4, 20]}, "gridOpacity": {"condition": {"test": "datum.value >= 0 && datum.value % 2 == 0", "value": 1}, "value": 0}}},
                      "y": {"datum": 0.294, "type": "quantitative", "scale": {"domain": [-0.1, 1.1], "nice": false, "zero": false}, "title": " ", "axis": {"orient": "left", "values": [-0.1, 0, 0.1, 0.2, 0.3, 0.4, 0.5, 0.6, 0.7, 0.8, 0.9, 1, 1.1], "labelExpr": "indexof([0, 0.2, 0.4, 0.6, 0.8, 1], datum.value) >= 0 ? format(datum.value, '.1f') : ''", "tickDash": {"condition": {"test": "(datum.value * 10 + 20.5) % 2 < 1", "value": [1, 0]}, "value": [4, 20]}, "gridOpacity": {"condition": {"test": "(datum.value * 10 + 20.5) % 2 < 1", "value": 1}, "value": 0}}}}},
        {"data": {"name": "p3fit"}, "mark": {"type": "line", "interpolate": "monotone"},
         "encoding": {
           "x": {"field": "x", "type": "quantitative", "scale": {"domain": [-1, 10], "nice": false, "zero": false}, "title": "Depth (mm)", "axis": {"orient": "bottom", "values": [-1, 0, 1, 2, 3, 4, 5, 6, 7, 8, 9, 10], "labelExpr": "indexof([0, 2, 4, 6, 8, 10], datum.value) >= 0 ? format(datum.value, 'd') : ''", "tickDash": {"condition": {"test": "datum.value >= 0 && datum.value % 2 == 0", "value": [1, 0]}, "value": [4, 20]}, "gridOpacity": {"condition": {"test": "datum.value >= 0 && datum.value % 2 == 0", "value": 1}, "value": 0}}},
           "y": {"field": "y", "type": "quantitative", "scale": {"domain": [-0.1, 1.1], "nice": false, "zero": false}, "title": " ", "axis": {"orient": "left", "values": [-0.1, 0, 0.1, 0.2, 0.3, 0.4, 0.5, 0.6, 0.7, 0.8, 0.9, 1, 1.1], "labelExpr": "indexof([0, 0.2, 0.4, 0.6, 0.8, 1], datum.value) >= 0 ? format(datum.value, '.1f') : ''", "tickDash": {"condition": {"test": "(datum.value * 10 + 20.5) % 2 < 1", "value": [1, 0]}, "value": [4, 20]}, "gridOpacity": {"condition": {"test": "(datum.value * 10 + 20.5) % 2 < 1", "value": 1}, "value": 0}}},
           "stroke": {"field": "series", "type": "nominal",
                      "scale": {"domain": ["Fit 1 profile", "Fit 2 profiles", "Exp. points"], "range": ["#7a7a7a", "black", "black"]},
                      "legend": {"title": null, "orient": "none", "legendX": 326, "legendY": 27, "direction": "vertical", "strokeColor": "black", "fillColor": "white", "padding": 5, "titlePadding": 0, "rowPadding": 5.5, "labelFont": "Liberation Sans", "labelFontSize": 25, "labelColor": "black", "symbolOffset": 18.5, "labelOffset": 25, "symbolSize": 100,
                                 "encoding": {"symbols": {"fill": {"value": "black"}, "strokeWidth": {"value": 2}, "opacity": {"value": 1}}}}},
           "strokeWidth": {"field": "series", "type": "ordinal",
                           "scale": {"domain": ["Fit 1 profile", "Fit 2 profiles", "Exp. points"], "range": [1.2, 1.8, 1.8]}, "legend": null},
           "strokeDash": {"field": "series", "type": "nominal",
                          "scale": {"domain": ["Fit 1 profile", "Fit 2 profiles", "Exp. points"], "range": [[2, 2], [1, 0], [1, 0]]},
                          "legend": {"title": null, "orient": "none", "legendX": 326, "legendY": 27, "direction": "vertical", "strokeColor": "black", "fillColor": "white", "padding": 5, "titlePadding": 0, "rowPadding": 5.5, "labelFont": "Liberation Sans", "labelFontSize": 25, "labelColor": "black", "symbolOffset": 18.5, "labelOffset": 25, "symbolSize": 100,
                                     "encoding": {"symbols": {"fill": {"value": "black"}, "strokeWidth": {"value": 2}, "opacity": {"value": 1}}}}}
         }},
        {"data": {"name": "p3pts"}, "mark": {"type": "errorbar", "color": "black", "thickness": 1, "ticks": {"size": 9}},
         "encoding": {"x": {"field": "x", "type": "quantitative", "scale": {"domain": [-1, 10], "nice": false, "zero": false}, "title": "Depth (mm)", "axis": {"orient": "bottom", "values": [-1, 0, 1, 2, 3, 4, 5, 6, 7, 8, 9, 10], "labelExpr": "indexof([0, 2, 4, 6, 8, 10], datum.value) >= 0 ? format(datum.value, 'd') : ''", "tickDash": {"condition": {"test": "datum.value >= 0 && datum.value % 2 == 0", "value": [1, 0]}, "value": [4, 20]}, "gridOpacity": {"condition": {"test": "datum.value >= 0 && datum.value % 2 == 0", "value": 1}, "value": 0}}},
                      "y": {"field": "y", "type": "quantitative", "scale": {"domain": [-0.1, 1.1], "nice": false, "zero": false}, "title": " ", "axis": {"orient": "left", "values": [-0.1, 0, 0.1, 0.2, 0.3, 0.4, 0.5, 0.6, 0.7, 0.8, 0.9, 1, 1.1], "labelExpr": "indexof([0, 0.2, 0.4, 0.6, 0.8, 1], datum.value) >= 0 ? format(datum.value, '.1f') : ''", "tickDash": {"condition": {"test": "(datum.value * 10 + 20.5) % 2 < 1", "value": [1, 0]}, "value": [4, 20]}, "gridOpacity": {"condition": {"test": "(datum.value * 10 + 20.5) % 2 < 1", "value": 1}, "value": 0}}},
                      "yError": {"field": "err"}}},
        {"data": {"name": "p3pts"}, "mark": {"type": "point", "filled": true, "color": "black", "opacity": 1, "size": 100},
         "encoding": {"x": {"field": "x", "type": "quantitative", "scale": {"domain": [-1, 10], "nice": false, "zero": false}, "title": "Depth (mm)", "axis": {"orient": "bottom", "values": [-1, 0, 1, 2, 3, 4, 5, 6, 7, 8, 9, 10], "labelExpr": "indexof([0, 2, 4, 6, 8, 10], datum.value) >= 0 ? format(datum.value, 'd') : ''", "tickDash": {"condition": {"test": "datum.value >= 0 && datum.value % 2 == 0", "value": [1, 0]}, "value": [4, 20]}, "gridOpacity": {"condition": {"test": "datum.value >= 0 && datum.value % 2 == 0", "value": 1}, "value": 0}}},
                      "y": {"field": "y", "type": "quantitative", "scale": {"domain": [-0.1, 1.1], "nice": false, "zero": false}, "title": " ", "axis": {"orient": "left", "values": [-0.1, 0, 0.1, 0.2, 0.3, 0.4, 0.5, 0.6, 0.7, 0.8, 0.9, 1, 1.1], "labelExpr": "indexof([0, 0.2, 0.4, 0.6, 0.8, 1], datum.value) >= 0 ? format(datum.value, '.1f') : ''", "tickDash": {"condition": {"test": "(datum.value * 10 + 20.5) % 2 < 1", "value": [1, 0]}, "value": [4, 20]}, "gridOpacity": {"condition": {"test": "(datum.value * 10 + 20.5) % 2 < 1", "value": 1}, "value": 0}}},
                      "shape": {"field": "series", "type": "nominal",
                                "scale": {"domain": ["Fit 1 profile", "Fit 2 profiles", "Exp. points"], "range": ["M-4.7,0H4.7", "M-4.7,0H4.7", "M-1,-1H1V1H-1Z"]},
                                "legend": {"title": null, "orient": "none", "legendX": 326, "legendY": 27, "direction": "vertical", "strokeColor": "black", "fillColor": "white", "padding": 5, "titlePadding": 0, "rowPadding": 5.5, "labelFont": "Liberation Sans", "labelFontSize": 25, "labelColor": "black", "symbolOffset": 18.5, "labelOffset": 25, "symbolSize": 100,
                                           "encoding": {"symbols": {"fill": {"value": "black"}, "strokeWidth": {"value": 2}, "opacity": {"value": 1}}}}}}}
      ]
    }
  ],
  "config": {
    "view": {"stroke": "black", "strokeWidth": 2.5},
    "axis": {"domain": false, "grid": true, "gridColor": "#6e6e6e", "gridWidth": 1, "tickColor": "black", "tickWidth": 1.8, "tickSize": 7,
             "labelFont": "Liberation Sans", "labelFontWeight": "bold", "labelFontSize": 19, "labelColor": "black", "labelPadding": 6,
             "titleFont": "Liberation Sans", "titleFontWeight": "normal", "titleFontSize": 26, "titleColor": "black", "titlePadding": 14}
  }
}
